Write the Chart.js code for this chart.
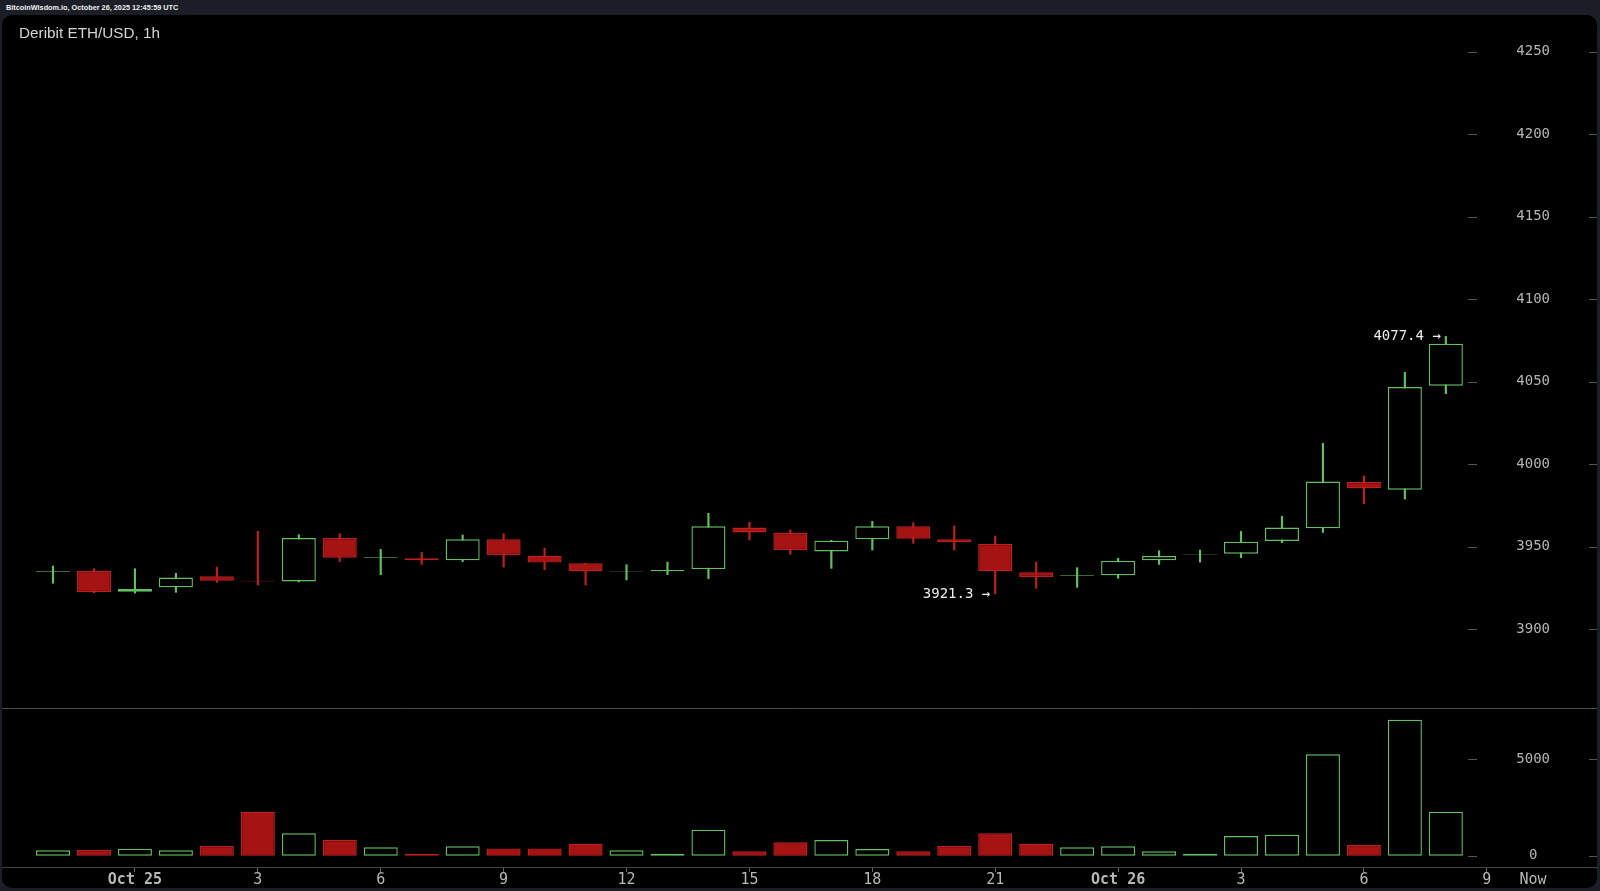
<!DOCTYPE html>
<html>
<head>
<meta charset="utf-8">
<script src="https://cdn.jsdelivr.net/npm/chart.js"></script>
<style>
    body { margin: 0; background: #1b1e27; width: 1600px; height: 891px; overflow: hidden; position: relative; }
    #hdr { position: absolute; left: 6px; top: 3px; font: bold 7.3px "Liberation Sans", Arial, sans-serif; color: #f0f0f0; white-space: nowrap; }
    #panel { position: absolute; left: 2px; top: 15px; width: 1595px; height: 873px; background: #000; border-radius: 10px; }
    #title { position: absolute; left: 19px; top: 24px; font: 15.3px "Liberation Sans", Arial, sans-serif; color: #d4d4d4; white-space: nowrap; }
    #c { position: absolute; left: 0; top: 0; }
</style>
</head>
<body>
<div id="hdr">BitcoinWisdom.io, October 26, 2025 12:45:59 UTC</div>
<div id="panel"></div>
<canvas id="c" width="1600" height="891"></canvas>
<div id="title">Deribit ETH/USD, 1h</div>
<script>
// heures depuis Oct 25 00:00 (22h du 24 -> 8h du 26)
const hours = [-2, -1, 0, 1, 2, 3, 4, 5, 6, 7, 8, 9, 10, 11, 12, 13, 14, 15, 16, 17, 18, 19, 20, 21, 22, 23, 24, 25, 26, 27, 28, 29, 30, 31, 32];
const open  = [3934.6, 3935.2, 3922.6, 3925.3, 3932.0, 3929.3, 3928.9, 3955.2, 3943.3, 3942.9, 3941.7, 3954.4, 3944.5, 3939.9, 3934.9, 3935.0, 3936.4, 3961.5, 3958.4, 3947.1, 3954.4, 3962.3, 3954.4, 3951.6, 3934.4, 3932.4, 3932.6, 3941.7, 3945.0, 3945.7, 3953.4, 3961.1, 3989.1, 3984.5, 4047.5];
const high  = [3938.2, 3936.6, 3936.6, 3933.8, 3937.6, 3959.3, 3957.2, 3957.8, 3948.3, 3946.5, 3957.0, 3957.8, 3949.1, 3940.0, 3939.0, 3940.6, 3970.2, 3964.7, 3960.1, 3953.8, 3965.3, 3964.5, 3962.5, 3956.4, 3940.6, 3937.2, 3942.9, 3947.5, 3947.9, 3959.2, 3968.3, 4012.6, 3992.8, 4055.6, 4077.4];
const low   = [3927.8, 3922.0, 3921.8, 3922.3, 3928.3, 3926.7, 3928.6, 3940.9, 3933.0, 3939.2, 3940.9, 3937.6, 3936.0, 3926.7, 3929.8, 3933.0, 3930.6, 3954.0, 3945.3, 3936.8, 3947.9, 3952.0, 3947.9, 3921.3, 3924.7, 3925.3, 3930.8, 3939.2, 3940.6, 3943.3, 3952.4, 3958.6, 3976.0, 3978.8, 4042.7];
const close = [3935.0, 3922.5, 3924.3, 3931.2, 3929.3, 3928.9, 3955.2, 3943.3, 3943.7, 3941.7, 3954.4, 3944.9, 3940.3, 3935.0, 3935.2, 3935.8, 3962.3, 3958.6, 3947.9, 3953.6, 3962.3, 3954.8, 3952.6, 3935.0, 3931.6, 3932.8, 3941.3, 3944.3, 3945.4, 3953.0, 3961.5, 3989.4, 3985.3, 4046.7, 4073.0];
const volume = [276, 293, 362, 276, 500, 2276, 1155, 810, 431, 103, 483, 379, 379, 621, 276, 103, 1345, 224, 690, 810, 345, 224, 500, 1155, 621, 431, 483, 224, 103, 1017, 1086, 5241, 552, 7034, 2276];

const priceTicks = [3900, 3950, 4000, 4050, 4100, 4150, 4200, 4250];
const volumeTicks = [0, 5000];
const xTickHours = [0, 3, 6, 9, 12, 15, 18, 21, 24, 27, 30, 33, 34.13];
const xTickLabels = ['Oct 25', '3', '6', '9', '12', '15', '18', '21', 'Oct 26', '3', '6', '9', 'Now'];

const GREEN = '#62c062';
const RED_FILL = '#a51313';
const RED_LINE = '#bf1f1f';
const VOLUME_PANEL_TOP = 7660;

const isUp = i => close[i] >= open[i];

const bodyData = hours.map((h, i) => ({ x: h, y: [open[i], close[i]] }));
const wickData = hours.map((h, i) => ({ x: h, y: [low[i], high[i]] }));
const volData = hours.map((h, i) => ({ x: h, y: volume[i] }));

// lignes du panneau + tirets de l'axe des prix + étiquettes max/min
const decorPlugin = {
    id: 'decor',
    afterDraw(chart) {
        const ctx = chart.ctx;
        const area = chart.chartArea;
        const yv = chart.scales.y2;
        ctx.save();
        ctx.strokeStyle = '#4d4d4d';
        ctx.lineWidth = 1;
        const sy = Math.round(yv.getPixelForValue(VOLUME_PANEL_TOP)) + 0.5;
        ctx.beginPath();
        ctx.moveTo(area.left, sy);
        ctx.lineTo(area.right, sy);
        ctx.stroke();

        ctx.strokeStyle = '#555';
        ['y', 'y2'].forEach(id => {
            const s = chart.scales[id];
            s.ticks.forEach(t => {
                const py = Math.round(s.getPixelForValue(t.value)) + 0.5;
                ctx.beginPath();
                ctx.moveTo(area.right - 129, py);
                ctx.lineTo(area.right - 120, py);
                ctx.moveTo(area.right - 8, py);
                ctx.lineTo(area.right, py);
                ctx.stroke();
            });
        });

        const xs = chart.scales.x;
        const ys = chart.scales.y;
        let hi = 0, lo = 0;
        high.forEach((v, i) => { if (v > high[hi]) hi = i; });
        low.forEach((v, i) => { if (v < low[lo]) lo = i; });
        ctx.fillStyle = '#ececec';
        ctx.font = '14px "DejaVu Sans Mono", monospace';
        ctx.textAlign = 'right';
        ctx.textBaseline = 'middle';
        ctx.fillText(high[hi].toFixed(1) + ' \u2192', xs.getPixelForValue(hours[hi]) - 5, ys.getPixelForValue(high[hi]));
        ctx.fillText(low[lo].toFixed(1) + ' \u2192', xs.getPixelForValue(hours[lo]) - 5, ys.getPixelForValue(low[lo]));
        ctx.restore();
    }
};

const axisFont = { family: '"DejaVu Sans Mono", monospace', size: 14 };

const config = {
    type: 'bar',
    data: {
        datasets: [
            {
                data: bodyData,
                yAxisID: 'y',
                grouped: false,
                barPercentage: 0.83,
                categoryPercentage: 1,
                backgroundColor: ctx => isUp(ctx.dataIndex) ? '#000' : RED_FILL,
                borderColor: ctx => isUp(ctx.dataIndex) ? GREEN : RED_LINE,
                borderWidth: 1.4,
                borderSkipped: false
            },
            {
                data: wickData,
                yAxisID: 'y',
                grouped: false,
                barThickness: 1.5,
                backgroundColor: ctx => isUp(ctx.dataIndex) ? GREEN : RED_LINE,
                borderWidth: 0
            },
            {
                data: volData,
                yAxisID: 'y2',
                grouped: false,
                barPercentage: 0.83,
                categoryPercentage: 1,
                backgroundColor: ctx => isUp(ctx.dataIndex) ? '#000' : RED_FILL,
                borderColor: ctx => isUp(ctx.dataIndex) ? GREEN : RED_LINE,
                borderWidth: 1.4,
                borderSkipped: false
            }
        ]
    },
    options: {
        responsive: false,
        animation: false,
        devicePixelRatio: 1,
        layout: { padding: { left: 2, right: 3, top: 15, bottom: 0 } },
        plugins: { legend: { display: false }, tooltip: { enabled: false } },
        scales: {
            x: {
                type: 'linear',
                offset: false,
                min: -3.245,
                max: 35.69,
                afterBuildTicks: s => { s.ticks = xTickHours.map(v => ({ value: v })); },
                afterFit: s => { s.height = 24; },
                grid: {
                    offset: false,
                    drawOnChartArea: false,
                    drawTicks: true,
                    tickLength: 5,
                    tickColor: ctx => ctx.index === xTickHours.length - 1 ? 'rgba(0,0,0,0)' : '#666'
                },
                border: { display: true, color: '#444' },
                ticks: {
                    autoSkip: false,
                    maxRotation: 0,
                    padding: -1,
                    color: '#b8b8b8',
                    font: ctx => ({
                        family: '"DejaVu Sans Mono", monospace',
                        size: 15,
                        weight: xTickLabels[ctx.index] && xTickLabels[ctx.index].startsWith('Oct') ? 'bold' : 'normal'
                    }),
                    callback: (value, index) => xTickLabels[index]
                }
            },
            y: {
                position: 'right',
                min: 3755.8,
                max: 4272.2,
                afterBuildTicks: s => { s.ticks = priceTicks.map(v => ({ value: v })); },
                afterFit: s => { s.width = 0; },
                grid: { display: false, drawTicks: false },
                border: { display: false },
                ticks: { color: '#b5b5b5', font: axisFont, mirror: true, crossAlign: 'center', padding: -47, callback: v => String(v) }
            },
            y2: {
                position: 'right',
                min: -584,
                max: 43470,
                afterBuildTicks: s => { s.ticks = volumeTicks.map(v => ({ value: v })); },
                afterFit: s => { s.width = 0; },
                grid: { display: false, drawTicks: false },
                border: { display: false },
                ticks: { color: '#b5b5b5', font: axisFont, mirror: true, crossAlign: 'center', padding: -47, callback: v => String(v) }
            }
        }
    },
    plugins: [decorPlugin]
};

new Chart(document.getElementById('c').getContext('2d'), config);
</script>
</body>
</html>
